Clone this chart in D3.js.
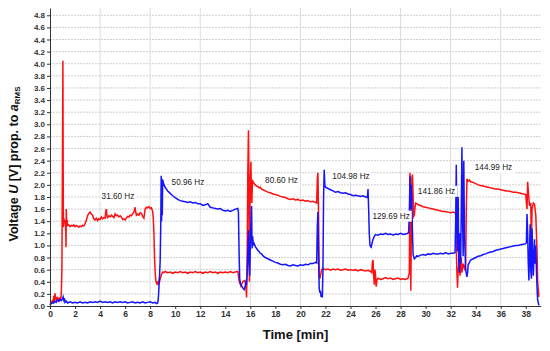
<!DOCTYPE html>
<html>
<head>
<meta charset="utf-8">
<script src="https://cdn.jsdelivr.net/npm/d3@7"></script>
<style>
  body { margin: 0; background: #fff; }
  svg { font-family: "Liberation Sans", Arial, sans-serif; }
</style>
</head>
<body>
<div id="chart"></div>
<script>
// time [min], voltage [V]
const redTrace = [[0,0.02],[0.1,0.06],[0.2,0.09],[0.25,0.04],[0.3,0.17],[0.35,0.07],[0.4,0.21],[0.45,0.1],[0.5,0.15],[0.55,0.08],[0.6,0.13],[0.7,0.09],[0.75,0.14],[0.8,0.1],[0.85,0.12],[0.9,0.18],[0.95,0.6],[1.0,2.7],[1.03,4.05],[1.05,2.5],[1.07,1.3],[1.1,1.45],[1.15,1.38],[1.2,1.42],[1.25,1.3],[1.28,0.97],[1.3,1.6],[1.33,1.35],[1.37,1.42],[1.4,1.33],[1.5,1.34],[1.6,1.31],[1.7,1.33],[1.8,1.32],[1.9,1.34],[2.0,1.31],[2.1,1.33],[2.2,1.32],[2.3,1.30],[2.4,1.32],[2.5,1.31],[2.6,1.33],[2.7,1.32],[2.8,1.36],[2.9,1.41],[3.0,1.49],[3.1,1.53],[3.2,1.55],[3.3,1.52],[3.4,1.50],[3.5,1.44],[3.6,1.42],[3.7,1.45],[3.8,1.41],[3.9,1.44],[4.0,1.43],[4.1,1.47],[4.2,1.44],[4.3,1.46],[4.4,1.45],[4.45,1.56],[4.5,1.6],[4.55,1.48],[4.6,1.46],[4.7,1.49],[4.8,1.47],[4.9,1.5],[5.0,1.48],[5.1,1.46],[5.2,1.52],[5.3,1.49],[5.4,1.5],[5.5,1.47],[5.6,1.49],[5.7,1.47],[5.8,1.43],[5.9,1.44],[6.0,1.42],[6.1,1.45],[6.2,1.48],[6.3,1.47],[6.4,1.5],[6.5,1.49],[6.6,1.52],[6.7,1.55],[6.8,1.63],[6.85,1.55],[6.9,1.5],[7.0,1.52],[7.1,1.5],[7.2,1.54],[7.3,1.53],[7.4,1.48],[7.5,1.45],[7.6,1.6],[7.7,1.63],[7.8,1.62],[7.9,1.64],[8.0,1.61],[8.1,1.62],[8.2,1.56],[8.25,1.45],[8.3,1.2],[8.35,0.8],[8.4,0.55],[8.45,0.42],[8.5,0.38],[8.55,0.36],[8.6,0.39],[8.65,0.37],[8.7,0.42],[8.75,0.4],[8.8,0.45],[8.85,0.48],[8.9,0.52],[9.0,0.56],[9.1,0.55],[9.2,0.57],[9.4,0.55],[9.6,0.56],[9.8,0.54],[10.0,0.56],[10.2,0.55],[10.4,0.57],[10.6,0.55],[10.8,0.56],[11.0,0.54],[11.2,0.56],[11.4,0.55],[11.6,0.57],[11.8,0.55],[12.0,0.56],[12.2,0.54],[12.4,0.56],[12.6,0.55],[12.8,0.57],[13.0,0.55],[13.2,0.56],[13.4,0.54],[13.6,0.56],[13.8,0.55],[14.0,0.56],[14.2,0.55],[14.4,0.57],[14.6,0.55],[14.8,0.56],[15.0,0.57],[15.05,0.5],[15.1,0.42],[15.15,0.38],[15.2,0.36],[15.25,0.33],[15.3,0.36],[15.4,0.4],[15.5,0.42],[15.6,0.39],[15.65,0.3],[15.7,0.14],[15.75,0.9],[15.8,2.2],[15.85,2.9],[15.88,2.3],[15.9,1.2],[15.93,0.4],[15.97,1.5],[16.0,2.1],[16.05,2.38],[16.08,1.9],[16.12,1.7],[16.16,2.0],[16.2,2.06],[16.3,2.02],[16.4,2.0],[16.5,1.98],[16.6,1.97],[16.7,1.95],[16.8,1.96],[16.9,1.93],[17.0,1.92],[17.2,1.9],[17.4,1.88],[17.6,1.87],[17.8,1.85],[18.0,1.84],[18.2,1.83],[18.4,1.81],[18.6,1.8],[18.8,1.79],[19.0,1.77],[19.2,1.76],[19.4,1.77],[19.6,1.75],[19.8,1.76],[20.0,1.74],[20.2,1.75],[20.4,1.73],[20.6,1.74],[20.8,1.72],[21.0,1.73],[21.2,1.71],[21.3,1.7],[21.35,2.1],[21.4,2.2],[21.45,1.5],[21.5,0.5],[21.55,0.45],[21.6,0.5],[21.7,0.6],[21.8,0.62],[22.0,0.6],[22.2,0.61],[22.4,0.59],[22.6,0.61],[22.8,0.6],[23.0,0.61],[23.2,0.59],[23.4,0.6],[23.6,0.61],[23.8,0.59],[24.0,0.6],[24.2,0.59],[24.4,0.6],[24.6,0.58],[24.8,0.6],[25.0,0.59],[25.2,0.58],[25.4,0.59],[25.6,0.57],[25.7,0.55],[25.75,0.72],[25.8,0.76],[25.85,0.5],[25.9,0.35],[25.95,0.6],[26.0,0.52],[26.05,0.32],[26.1,0.42],[26.2,0.46],[26.4,0.44],[26.6,0.45],[26.8,0.47],[27.0,0.45],[27.2,0.46],[27.4,0.44],[27.6,0.45],[27.8,0.46],[28.0,0.44],[28.2,0.45],[28.4,0.44],[28.6,0.46],[28.7,0.55],[28.75,2.2],[28.78,1.0],[28.82,0.25],[28.86,1.3],[28.9,2.1],[28.95,2.17],[29.0,1.8],[29.05,1.48],[29.1,1.5],[29.15,1.62],[29.2,1.7],[29.3,1.69],[29.4,1.67],[29.6,1.66],[29.8,1.64],[30.0,1.63],[30.2,1.62],[30.4,1.61],[30.6,1.6],[30.8,1.59],[31.0,1.58],[31.2,1.57],[31.4,1.56],[31.6,1.56],[31.8,1.55],[32.0,1.54],[32.2,1.55],[32.4,1.53],[32.45,1.0],[32.5,0.55],[32.55,0.3],[32.6,0.6],[32.7,0.72],[32.75,0.5],[32.85,0.8],[32.9,0.55],[33.0,0.7],[33.1,0.62],[33.2,0.7],[33.25,1.6],[33.3,2.1],[33.4,2.06],[33.5,2.08],[33.6,2.05],[33.8,2.04],[34.0,2.02],[34.2,2.0],[34.4,1.99],[34.6,1.98],[34.8,1.97],[35.0,1.96],[35.2,1.95],[35.4,1.94],[35.6,1.93],[35.8,1.93],[36.0,1.92],[36.2,1.91],[36.4,1.9],[36.6,1.9],[36.8,1.89],[37.0,1.88],[37.2,1.88],[37.4,1.87],[37.6,1.86],[37.8,1.85],[38.0,1.84],[38.05,1.7],[38.1,1.6],[38.15,2.05],[38.2,1.9],[38.3,1.65],[38.4,1.7],[38.45,1.0],[38.5,1.6],[38.6,1.7],[38.7,1.68],[38.8,1.5],[38.9,0.9],[38.95,0.4],[39.05,0.15]];

const blueTrace = [[0,0.02],[0.1,0.04],[0.2,0.06],[0.3,0.05],[0.4,0.08],[0.5,0.06],[0.6,0.1],[0.7,0.08],[0.8,0.11],[0.9,0.09],[1.0,0.12],[1.05,0.15],[1.1,0.1],[1.15,0.13],[1.2,0.06],[1.3,0.08],[1.4,0.05],[1.6,0.07],[1.8,0.05],[2.0,0.06],[2.2,0.05],[2.4,0.07],[2.6,0.05],[2.8,0.06],[3.0,0.05],[3.2,0.07],[3.4,0.06],[3.6,0.07],[3.8,0.06],[4.0,0.08],[4.2,0.06],[4.4,0.07],[4.6,0.06],[4.8,0.07],[5.0,0.05],[5.2,0.07],[5.4,0.06],[5.6,0.07],[5.8,0.06],[6.0,0.07],[6.2,0.05],[6.4,0.06],[6.6,0.07],[6.8,0.05],[7.0,0.06],[7.2,0.05],[7.4,0.07],[7.6,0.05],[7.8,0.06],[8.0,0.07],[8.2,0.05],[8.4,0.06],[8.5,0.04],[8.6,0.05],[8.65,0.12],[8.7,0.3],[8.75,0.5],[8.8,0.75],[8.85,1.4],[8.88,2.15],[8.91,1.4],[8.94,2.1],[8.97,1.5],[9.0,2.08],[9.1,2.0],[9.2,1.96],[9.3,1.93],[9.4,1.9],[9.5,1.88],[9.6,1.86],[9.7,1.84],[9.8,1.82],[10.0,1.79],[10.2,1.76],[10.4,1.74],[10.6,1.73],[10.8,1.72],[11.0,1.71],[11.2,1.72],[11.4,1.7],[11.6,1.71],[11.8,1.69],[12.0,1.69],[12.2,1.66],[12.4,1.67],[12.6,1.69],[12.7,1.66],[12.8,1.63],[13.0,1.62],[13.2,1.61],[13.4,1.6],[13.6,1.61],[13.8,1.58],[14.0,1.57],[14.2,1.58],[14.4,1.56],[14.6,1.58],[14.8,1.6],[15.0,1.61],[15.05,1.55],[15.1,0.9],[15.15,0.46],[15.2,0.38],[15.3,0.33],[15.4,0.3],[15.5,0.27],[15.6,0.33],[15.65,0.4],[15.7,0.38],[15.75,0.55],[15.8,0.9],[15.85,1.25],[15.9,0.7],[15.95,0.5],[16.0,1.0],[16.05,1.4],[16.1,1.65],[16.14,0.95],[16.18,1.15],[16.25,1.0],[16.3,1.03],[16.4,0.98],[16.5,0.95],[16.6,0.92],[16.7,0.9],[16.8,0.87],[16.9,0.86],[17.0,0.83],[17.2,0.8],[17.4,0.78],[17.6,0.76],[17.8,0.74],[18.0,0.72],[18.2,0.71],[18.4,0.69],[18.6,0.68],[18.8,0.69],[19.0,0.67],[19.2,0.66],[19.4,0.68],[19.6,0.67],[19.8,0.66],[20.0,0.68],[20.2,0.67],[20.4,0.69],[20.6,0.68],[20.8,0.7],[21.0,0.7],[21.2,0.72],[21.3,0.71],[21.35,1.3],[21.4,1.55],[21.45,0.8],[21.5,0.3],[21.55,0.22],[21.6,0.25],[21.65,0.15],[21.7,0.2],[21.75,0.14],[21.8,0.6],[21.85,1.8],[21.9,2.25],[21.95,2.0],[22.0,1.96],[22.2,1.94],[22.4,1.92],[22.6,1.9],[22.8,1.88],[23.0,1.89],[23.2,1.87],[23.4,1.86],[23.6,1.87],[23.8,1.85],[24.0,1.84],[24.2,1.82],[24.4,1.83],[24.6,1.82],[24.8,1.81],[25.0,1.82],[25.2,1.8],[25.35,1.79],[25.4,1.93],[25.45,1.6],[25.5,1.2],[25.55,1.02],[25.6,0.98],[25.65,0.97],[25.7,1.02],[25.8,1.1],[25.9,1.15],[26.0,1.18],[26.2,1.17],[26.4,1.19],[26.6,1.18],[26.8,1.2],[27.0,1.18],[27.2,1.19],[27.4,1.17],[27.6,1.19],[27.8,1.18],[28.0,1.2],[28.2,1.18],[28.4,1.19],[28.6,1.2],[28.65,1.24],[28.7,1.5],[28.75,2.15],[28.8,1.6],[28.85,2.0],[28.9,1.7],[28.95,1.2],[29.0,0.85],[29.1,0.78],[29.2,0.8],[29.3,0.83],[29.4,0.82],[29.6,0.84],[29.8,0.85],[30.0,0.84],[30.2,0.86],[30.4,0.85],[30.6,0.87],[30.8,0.86],[31.0,0.86],[31.2,0.87],[31.4,0.86],[31.6,0.88],[31.8,0.86],[32.0,0.87],[32.2,0.87],[32.35,0.88],[32.4,1.4],[32.45,2.33],[32.5,1.2],[32.55,0.9],[32.6,1.8],[32.65,0.72],[32.7,0.55],[32.75,1.2],[32.8,0.7],[32.85,1.6],[32.9,2.62],[32.95,1.5],[33.0,0.82],[33.05,2.4],[33.1,1.2],[33.15,0.9],[33.2,0.6],[33.3,0.48],[33.35,0.55],[33.4,0.68],[33.5,0.72],[33.6,0.76],[33.8,0.78],[34.0,0.8],[34.2,0.82],[34.4,0.83],[34.6,0.85],[34.8,0.86],[35.0,0.88],[35.2,0.89],[35.4,0.9],[35.6,0.92],[35.8,0.93],[36.0,0.94],[36.2,0.95],[36.4,0.96],[36.6,0.97],[36.8,0.98],[37.0,0.99],[37.2,1.0],[37.4,1.0],[37.6,1.01],[37.8,1.02],[38.0,1.03],[38.05,1.05],[38.1,1.52],[38.15,1.2],[38.2,0.7],[38.25,0.42],[38.3,0.9],[38.35,1.35],[38.4,0.6],[38.45,0.45],[38.5,1.28],[38.55,0.9],[38.6,0.5],[38.7,1.1],[38.75,0.7],[38.8,1.0],[38.85,0.6],[38.9,0.3],[38.95,0.1],[39.05,0.01]];

const xTicks = d3.range(0, 40, 2);
const yTicks = d3.range(0, 4.81, 0.2);
const xGrid = [4, 8, 12, 16, 20, 24, 28, 32, 36];

const freqLabels = ["31.60 Hz", "50.96 Hz", "80.60 Hz", "104.98 Hz", "129.69 Hz", "141.86 Hz", "144.99 Hz"];
const freqTime = [5.43, 11.02, 18.49, 24.04, 27.24, 30.87, 35.42];
const freqVolt = [1.82, 2.05, 2.08, 2.14, 1.49, 1.90, 2.29];

function main() {
    const width = 550;
    const height = 351;

    const svg = d3.select("#chart")
        .append("svg")
        .attr("width", width)
        .attr("height", height)

    const x = d3.scaleLinear().domain([0, 39.2]).range([50, 540.8])
    const y = d3.scaleLinear().domain([0, 4.92]).range([306, 8])

    // grid
    svg.append("g")
        .selectAll("line")
        .data(yTicks.slice(1))
        .join("line")
        .attr("x1", x(0)).attr("x2", x(39.2))
        .attr("y1", d => y(d)).attr("y2", d => y(d))
        .style("stroke", "#cfcfcf")
        .style("stroke-dasharray", "2,1")
        .style("stroke-width", 1)

    svg.append("g")
        .selectAll("line")
        .data(xGrid)
        .join("line")
        .attr("x1", d => x(d)).attr("x2", d => x(d))
        .attr("y1", y(0)).attr("y2", y(4.92))
        .style("stroke", "#dcdcdc")
        .style("stroke-width", 1)

    // traces
    const line = d3.line().x(d => x(d[0])).y(d => y(d[1]))

    svg.append("path")
        .datum(redTrace)
        .attr("d", line)
        .style("fill", "none")
        .style("stroke", "#ff1010")
        .style("stroke-width", 1.5)

    svg.append("path")
        .datum(blueTrace)
        .attr("d", line)
        .style("fill", "none")
        .style("stroke", "#1414ff")
        .style("stroke-width", 1.5)

    // axes
    const yAxis = svg.append("g")
        .attr("transform", "translate(50,0)")
        .call(d3.axisLeft(y).tickValues(yTicks).tickFormat(d3.format(".1f")).tickSize(3).tickSizeOuter(0))
    const xAxis = svg.append("g")
        .attr("transform", "translate(0,306)")
        .call(d3.axisBottom(x).tickValues(xTicks).tickFormat(d3.format("d")).tickSize(3).tickSizeOuter(0))

    yAxis.selectAll("text")
        .style("font-size", "8px")
        .style("font-weight", "bold")
        .style("fill", "#333")
        .attr("x", -5)
    xAxis.selectAll("text")
        .style("font-size", "8.5px")
        .style("font-weight", "bold")
        .style("fill", "#333")
        .attr("y", 5)
    svg.selectAll(".domain").style("stroke", "#333")
    svg.selectAll(".tick line").style("stroke", "#333")

    // frequency labels
    const labels = svg.append("g")
        .selectAll("g")
        .data(freqLabels)
        .join("g")
        .attr("transform", (d, i) => `translate(${x(freqTime[i])},${y(freqVolt[i])})`)

    labels.append("text")
        .attr("text-anchor", "middle")
        .attr("dy", "0.35em")
        .style("font-size", "8.2px")
        .style("fill", "#222")
        .text(d => d)

    labels.each(function () {
        const g = d3.select(this)
        const b = g.select("text").node().getBBox()
        g.insert("rect", "text")
            .attr("x", b.x - 2).attr("y", b.y - 1)
            .attr("width", b.width + 4).attr("height", b.height + 2)
            .style("fill", "white")
    })

    // axis titles
    svg.append("text")
        .attr("x", 295.5)
        .attr("y", 339)
        .attr("text-anchor", "middle")
        .style("font-size", "13px")
        .style("font-weight", "bold")
        .style("fill", "#111")
        .text("Time [min]")

    const yt = svg.append("text")
        .attr("transform", "translate(18,164) rotate(-90)")
        .attr("text-anchor", "middle")
        .style("font-size", "12.5px")
        .style("font-weight", "bold")
        .style("fill", "#111")
    yt.append("tspan").text("Voltage ")
    yt.append("tspan").style("font-style", "italic").text("U")
    yt.append("tspan").text(" [V] prop. to ")
    yt.append("tspan").style("font-style", "italic").text("a")
    yt.append("tspan").style("font-size", "8px").attr("dy", 2).text("RMS")
}
main();
</script>
</body>
</html>
